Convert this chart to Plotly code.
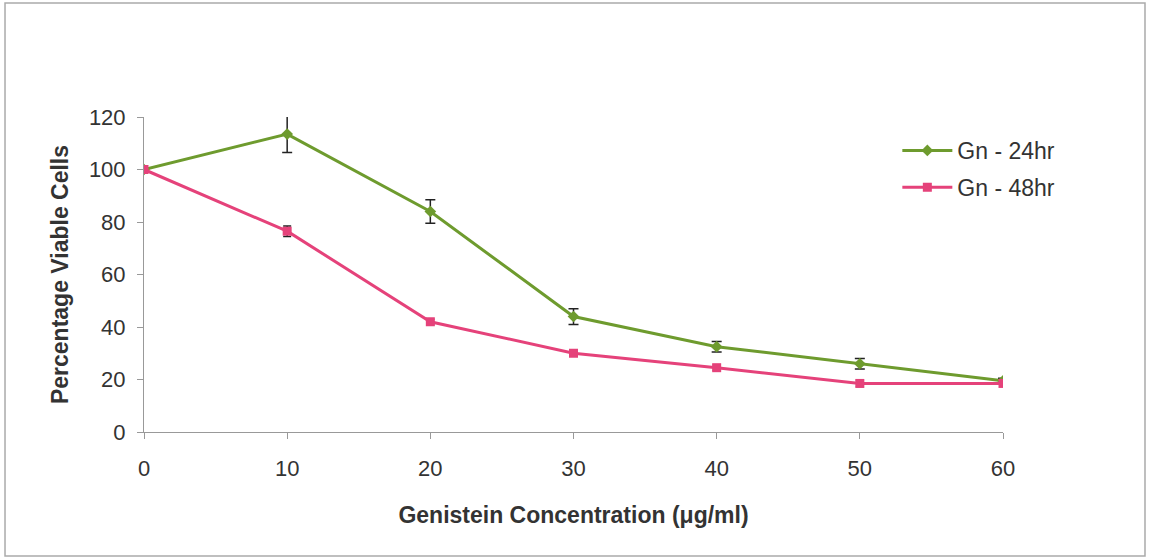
import plotly.graph_objects as go

conc = [0, 10, 20, 30, 40, 50, 60]
gn24 = [100, 113.5, 84, 44, 32.5, 26, 19.5]
gn24_err = [0.5, 7, 4.5, 3, 2, 2, 1]
gn48 = [100, 76.5, 42, 30, 24.5, 18.5, 18.5]
gn48_err = [0.5, 2, 1, 1, 1, 1.2, 1]
names = ["Gn - 24hr", "Gn - 48hr"]
x_ticks = [0, 10, 20, 30, 40, 50, 60]
y_ticks = [0, 20, 40, 60, 80, 100, 120]

green = "#6E9B2E"
pink = "#E5427A"
font = "Liberation Sans, Arial, sans-serif"

fig = go.Figure()
fig.add_trace(go.Scatter(
    x=conc, y=gn24, name=names[0], mode="lines+markers", legendgroup="a",
    line=dict(color=green, width=3),
    marker=dict(symbol="diamond", size=9, color=green),
    error_y=dict(type="data", array=gn24_err, color="#222", thickness=1.5, width=5),
))
fig.add_trace(go.Scatter(
    x=conc, y=gn48, name=names[1], mode="lines+markers", legendgroup="b",
    line=dict(color=pink, width=3),
    marker=dict(symbol="square", size=9, color=pink),
    error_y=dict(type="data", array=gn48_err, color="#222", thickness=1.5, width=4),
))

fig.update_layout(
    width=1149, height=560,
    margin=dict(l=144, r=146, t=117, b=128),
    paper_bgcolor="white", plot_bgcolor="white",
    font=dict(family=font, color="#333"),
    showlegend=True,
    legend=dict(x=0.877, y=0.962, xanchor="left", yanchor="top",
                font=dict(size=23, color="#333"), tracegroupgap=4,
                traceorder="grouped", bgcolor="rgba(0,0,0,0)", itemwidth=50),
    xaxis=dict(range=[0, 60], tickvals=x_ticks, showgrid=False, zeroline=False,
               showline=True, linecolor="#999", linewidth=1,
               ticks="outside", ticklen=6, tickcolor="#999",
               tickfont=dict(size=22, color="#333"), ticklabelstandoff=11,
               title=dict(text="<b>Genistein Concentration (μg/ml)</b>",
                          font=dict(size=23, color="#333"), standoff=26)),
    yaxis=dict(range=[0, 120], tickvals=y_ticks, showgrid=False, zeroline=False,
               showline=True, linecolor="#999", linewidth=1,
               ticks="outside", ticklen=6, tickcolor="#999",
               tickfont=dict(size=22, color="#333"), ticklabelstandoff=7,
               title=dict(text="<b>Percentage Viable Cells</b>",
                          font=dict(size=23, color="#333"), standoff=13)),
    shapes=[dict(type="rect", xref="paper", yref="paper",
                 x0=-0.1618, x1=1.1653, y0=-0.3937, y1=1.3619,
                 line=dict(color="#AAAAAA", width=1.5), layer="below")],
)
fig.update_xaxes(automargin=False)
fig.update_yaxes(automargin=False)

fig.write_html("out.html", config={"displayModeBar": False},
               post_script="document.body.style.margin='0';document.body.style.overflow='hidden';")
